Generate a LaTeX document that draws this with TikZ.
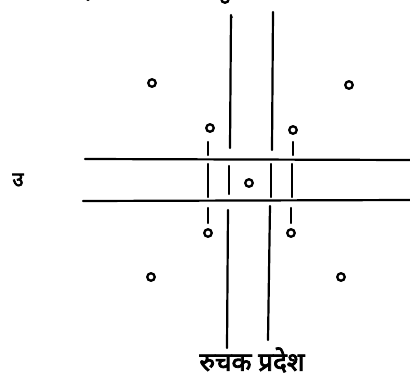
\documentclass[tikz,border=0pt]{standalone}
\usepackage{fontspec}
\newfontfamily\deva[Script=Devanagari,FakeBold=3]{Noto Sans}
\begin{document}
\begin{tikzpicture}[x=1pt,y=-1pt,
  ln/.style={line width=2.2pt,line cap=round},
  orb/.style={circle,draw,line width=2.3pt,inner sep=0pt,minimum width=7.5pt,minimum height=7.5pt}]
\useasboundingbox (0,0) rectangle (410,389);
% partial marks at the top edge
\node[orb] (t1) at (225,-1) {};
\fill (88,-1) circle (2pt);
\fill (232,17) circle (1pt);
% corner orbs
\node[orb] (a1) at (152,83) {};
\node[orb] (a2) at (349,85) {};
\node[orb] (a3) at (151,277) {};
\node[orb] (a4) at (341,277) {};
% orbs near the cross
\node[orb] (b1) at (210,128) {};
\node[orb] (b2) at (293,130) {};
\node[orb] (b3) at (208,233) {};
\node[orb] (b4) at (291,233) {};
\node[orb] (c) at (249,183) {};
% horizontal band
\draw[ln] (85,159) -- (410,160);
\draw[ln] (83,201) -- (410,200);
% inner vertical lines
\draw[ln] (231,15) -- (230,148);
\draw[ln] (229,166) -- (229,194);
\draw[ln] (228,210) -- (227,348);
\draw[ln] (273,12) -- (272,150);
\draw[ln] (271,164) -- (271,197);
\draw[ln] (270,206) -- (268,340);
% outer short dashes
\draw[ln] (208,142) -- (208,155);
\draw[ln] (208,164) -- (208,197);
\draw[ln] (208,208) -- (208,223);
\draw[ln] (293,142) -- (293,155);
\draw[ln] (292,164) -- (292,197);
\draw[ln] (291,208) -- (291,223);
% labels
\node (lab) at (18,180) {\deva\fontsize{20}{24}\selectfont उ};
\node (title) at (252,360) {\deva\fontsize{26}{30}\selectfont रुचक प्रदेश};
\end{tikzpicture}
\end{document}
